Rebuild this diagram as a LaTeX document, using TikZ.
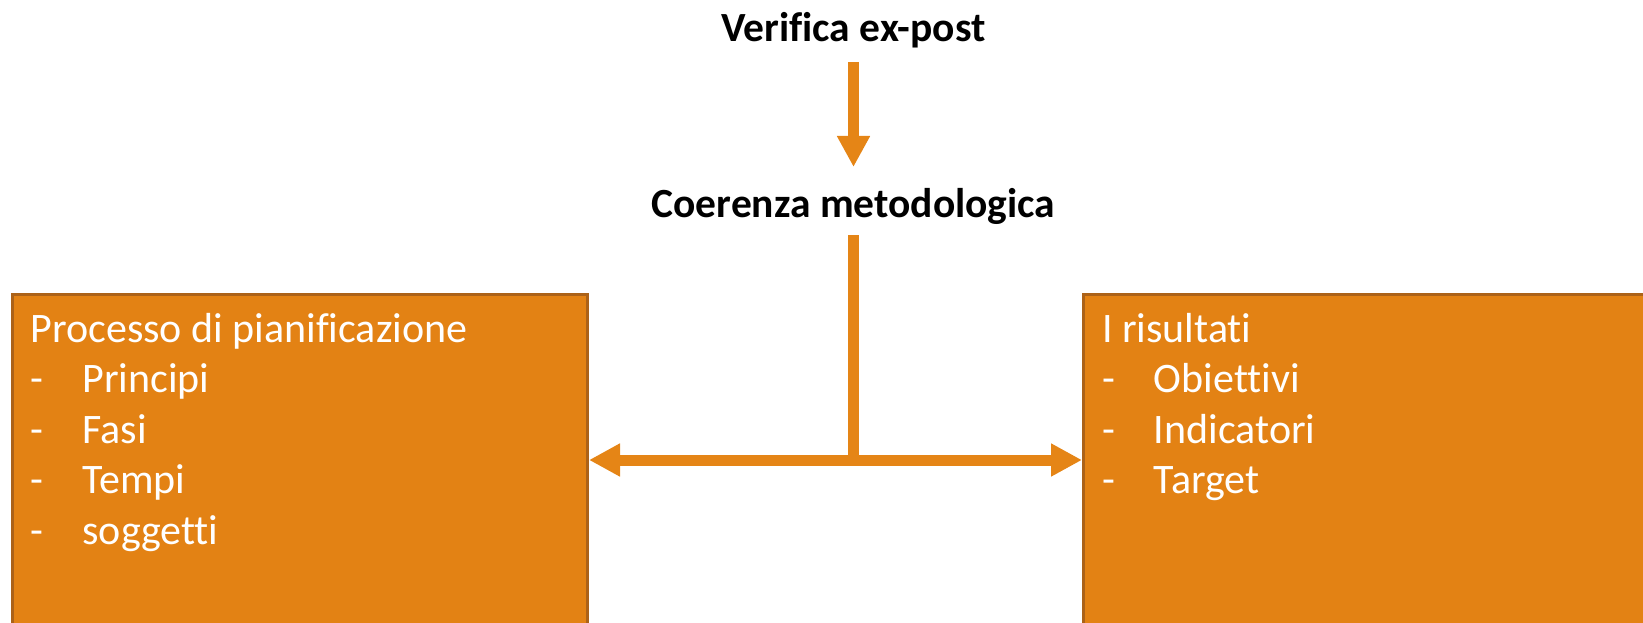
\documentclass[tikz,border=0pt]{standalone}
\usepackage{fontspec}
\setmainfont{Carlito}[Ligatures=CommonOff]
\usetikzlibrary{arrows.meta}

\definecolor{panelfill}{RGB}{227,130,20}
\definecolor{paneledge}{RGB}{172,98,24}
\definecolor{linkorange}{RGB}{229,133,22}

\begin{document}
\begin{tikzpicture}[x=1pt,y=-1pt,
  heading/.style={font=\fontsize{41.5}{50}\selectfont\bfseries, text=black,
    inner sep=0pt, outer sep=0pt, text height=30pt, text depth=10pt, anchor=base},
  panel/.style={draw=paneledge, line width=3pt, fill=panelfill, anchor=north west,
    inner xsep=18.5pt, inner ysep=17.5pt, text=white,
    font=\fontsize{42}{50.5}\selectfont},
  link/.style={draw=linkorange, line width=11pt,
    >={Triangle[width=31pt,length=31pt]}}
]
\useasboundingbox (0,0) rectangle (1643,623);
\clip (0,0) rectangle (1643,623);

% headings
\node[heading] (verifica) at (853.5,42) {Verifica ex-post};
\node[heading] (coerenza) at (853.5,217) {Coerenza metodologica};

% the two panels (they run past the lower edge)
\node[panel] (plan) at (10.5,293) {\parbox[t][350pt][t]{538.5pt}{%
  \rule{0pt}{30pt}Processo di pianificazione\\
  \makebox[52pt][l]{-}Principi\\
  \makebox[52pt][l]{-}Fasi\\
  \makebox[52pt][l]{-}Tempi\\
  \makebox[52pt][l]{-}soggetti}};
\node[panel] (risultati) at (1082,293) {\parbox[t][350pt][t]{579.5pt}{%
  \rule{0pt}{30pt}I risultati\\
  \makebox[52pt][l]{-}Obiettivi\\
  \makebox[52pt][l]{-}Indicatori\\
  \makebox[52pt][l]{-}Target}};

\coordinate (junction) at (853.5,460);

% connectors
\draw[link,->,shorten <=10pt,shorten >=20pt] (verifica) -- (coerenza);
\draw[link,shorten <=8pt] (coerenza) -- (junction);
\draw[link,<->] (plan.east |- junction) -- (risultati.west |- junction);
\end{tikzpicture}
\end{document}
